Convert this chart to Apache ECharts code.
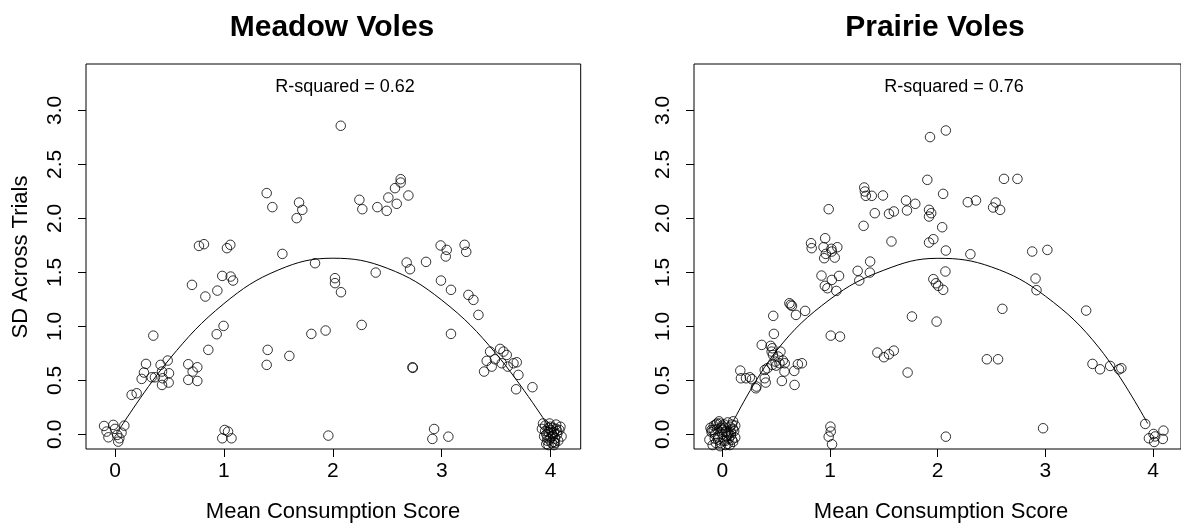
<!DOCTYPE html>
<html><head><meta charset="utf-8">
<script src="https://cdn.jsdelivr.net/npm/echarts@6/dist/echarts.min.js"></script>
<style>html,body{margin:0;padding:0;background:#fff}#c{width:1181px;height:525px}</style>
</head><body><div id="c"></div>
<script>
// Meadow voles: mean consumption score (x) and SD across trials (y)
const meadowX = [-0.10,-0.015,-0.077,-0.06,0.02,0.04,0.03,0.086,0.06,0.0,
0.153,0.199,0.352,0.245,0.266,0.285,0.337,0.367,0.419,0.432,0.438,0.496,0.493,0.432,0.484,0.673,0.713,0.756,0.673,0.756,0.707,0.771,0.817,0.83,0.857,0.94,0.934,0.997,0.985,1.028,1.059,1.062,1.084,0.985,1.007,1.038,1.07,1.393,1.445,1.402,1.393,1.537,1.69,1.72,1.668,1.837,1.601,2.073,2.02,2.02,2.075,1.803,1.934,1.959,2.244,2.271,2.394,2.265,2.409,2.495,2.51,2.587,2.571,2.623,2.623,2.694,2.678,2.709,2.856,2.731,2.735,2.99,3.046,3.037,3.21,3.225,2.993,3.085,3.085,3.245,3.291,3.337,2.93,2.914,3.061,
3.536,3.444,3.567,3.597,3.489,3.413,3.459,3.389,3.551,3.606,3.659,3.689,3.704,3.683,3.833,
3.92,3.95,3.98,4.0,4.02,4.05,4.08,3.94,3.97,4.01,4.04,4.06,3.99,4.03,3.96,4.09,4.1,3.93,4.0,4.07,3.98,4.03,
3.95,3.97,4.01,4.03,4.05,3.99,4.02,4.06,3.96,4.0,4.04,3.98];
const meadowY = [0.077,0.087,0.025,-0.028,-0.006,-0.037,-0.068,0.08,0.015,0.05,
0.365,0.38,0.914,0.513,0.572,0.652,0.528,0.528,0.643,0.581,0.519,0.565,0.479,0.457,0.683,0.649,0.581,0.621,0.504,0.494,1.384,1.745,1.761,1.276,0.782,1.331,0.927,1.004,1.467,1.724,1.755,1.461,1.424,-0.037,0.04,0.025,-0.037,2.234,2.104,0.782,0.643,1.671,2.147,2.079,2.002,1.585,0.726,2.858,1.446,1.40,1.316,0.93,0.961,-0.012,2.172,2.085,1.498,1.013,2.104,2.07,2.193,2.135,2.28,2.363,2.332,2.212,1.591,1.529,1.597,0.621,0.615,1.749,1.708,1.647,1.755,1.69,1.424,1.338,0.93,1.291,1.245,1.106,0.049,-0.043,-0.022,
0.791,0.766,0.766,0.735,0.695,0.68,0.627,0.581,0.658,0.627,0.658,0.667,0.55,0.417,0.436,
0.05,0.08,0.02,-0.03,0.06,0.09,0.04,-0.02,-0.06,-0.08,-0.04,0.0,0.1,0.02,0.0,0.07,-0.02,0.1,0.04,-0.06,-0.1,-0.1,
0.03,-0.03,0.01,-0.07,0.05,-0.05,-0.01,0.03,-0.09,0.07,-0.08,0.06];
// Prairie voles
const prairieX = [-0.12,-0.1,-0.08,-0.06,-0.05,-0.04,-0.02,0.0,0.01,0.02,0.03,0.04,0.05,0.06,0.07,0.08,0.09,0.1,0.11,0.12,-0.09,-0.03,0.0,-0.07,0.05,-0.11,0.1,-0.02,0.03,0.07,-0.05,0.12,
-0.08,-0.04,0.0,0.04,0.08,-0.06,-0.02,0.02,0.06,0.1,-0.1,-0.01,0.03,0.09,-0.07,0.05,
0.167,0.173,0.22,0.256,0.275,0.317,0.311,0.366,0.394,0.403,0.394,0.418,0.449,0.464,0.473,0.479,0.458,0.47,0.464,0.494,0.519,0.54,0.531,0.562,0.58,0.5,0.553,0.577,0.623,0.647,0.635,0.684,0.769,0.668,0.702,0.739,0.671,0.824,0.83,0.955,0.94,0.961,1.013,1.017,1.068,1.044,0.946,0.988,0.921,0.952,0.976,1.017,1.084,1.059,1.007,1.093,1.004,1.007,0.988,1.019,1.257,1.272,1.373,1.37,1.312,1.318,1.324,1.333,1.388,1.492,1.416,1.548,1.593,1.571,1.44,1.501,1.548,1.593,1.721,1.706,1.715,1.792,1.761,1.904,1.929,2.076,1.92,1.94,1.92,1.92,1.96,2.051,2.042,2.076,2.072,1.96,1.984,2.005,2.051,1.99,2.076,2.28,2.356,2.304,2.457,2.561,2.601,2.539,2.515,2.58,2.616,2.741,2.878,3.019,2.909,2.918,2.979,3.379,3.438,3.508,3.602,3.685,3.706,3.928,3.962,4.005,4.011,4.091,4.097,4.02];
const prairieY = [-0.05,0.02,0.08,-0.08,0.05,-0.02,0.1,0.0,-0.06,0.06,-0.1,0.03,0.11,-0.04,0.07,-0.01,0.09,-0.07,0.03,-0.03,-0.1,0.12,0.08,0.0,-0.09,0.06,0.12,-0.11,0.02,-0.1,0.1,0.08,
0.04,-0.05,0.04,-0.02,0.02,0.09,-0.08,0.09,0.0,0.05,0.04,0.06,-0.06,-0.05,-0.04,0.01,
0.59,0.519,0.519,0.528,0.51,0.442,0.426,0.828,0.596,0.479,0.519,0.612,0.819,0.797,1.097,0.93,0.766,0.735,0.643,0.673,0.72,0.766,0.658,0.683,0.658,0.636,0.494,0.581,1.214,1.189,1.2,1.106,1.143,0.587,0.649,0.658,0.457,1.77,1.724,1.816,1.733,1.671,1.718,1.693,1.733,1.637,1.631,2.085,1.47,1.375,1.353,1.43,1.467,1.328,0.914,0.905,0.071,0.025,-0.022,-0.093,1.514,1.424,1.6,1.498,1.931,2.286,2.249,2.209,2.209,2.212,2.048,2.042,2.064,1.786,0.757,0.714,0.741,0.775,0.572,2.166,2.073,2.135,1.091,2.357,2.753,2.814,2.079,2.048,2.017,1.776,1.807,2.227,1.918,1.702,1.508,1.437,1.399,1.375,1.338,1.044,-0.022,2.15,2.166,1.668,0.695,0.695,1.162,2.147,2.101,2.079,2.366,2.366,1.693,1.708,1.443,1.335,0.056,1.146,0.652,0.602,0.633,0.602,0.612,0.096,-0.037,0.003,-0.071,-0.043,0.034,-0.02];
// Fitted curves
const meadowFitX = [0.05,0.5,1.0,1.5,2.0,2.5,3.0,3.5,4.0];
const meadowFitY = [0.061,0.696,1.210,1.522,1.631,1.538,1.243,0.745,0.045];
const prairieFitX = [0.1,0.5,1.0,1.5,2.0,2.5,3.0,3.5,3.95];
const prairieFitY = [0.117,0.77,1.25,1.52,1.63,1.55,1.28,0.8,0.1];
const xTicks = [0,1,2,3,4];
const yTicks = [0,0.5,1,1.5,2,2.5,3];
const titles = ['Meadow Voles','Prairie Voles'];
const rsq = ['R-squared = 0.62','R-squared = 0.76'];
const xTitle = 'Mean Consumption Score';
const yTitle = 'SD Across Trials';

const FONT = '"Liberation Sans", Arial, Helvetica, sans-serif';
const zip = (a,b)=>a.map((v,i)=>[v,b[i]]);
const chart = echarts.init(document.getElementById('c'), null, {renderer:'canvas'});

function xAxis(idx,min,max){
  return {type:'value', gridIndex:idx, min:min, max:max, position:'bottom',
    axisLine:{show:false, onZero:false}, splitLine:{show:false},
    axisTick:{show:true, inside:false, length:8, customValues:xTicks, lineStyle:{color:'#000',width:1}},
    axisLabel:{show:true, customValues:xTicks, margin:12, color:'#000', fontSize:21, fontFamily:FONT,
      formatter:v=>String(v)}};
}
function yAxis(idx){
  return {type:'value', gridIndex:idx, min:-0.1363, max:3.430, position:'left',
    axisLine:{show:false, onZero:false}, splitLine:{show:false},
    axisTick:{show:true, inside:false, length:8, customValues:yTicks, lineStyle:{color:'#000',width:1}},
    axisLabel:{show:true, customValues:yTicks, rotate:90, margin:20, color:'#000', fontSize:21, fontFamily:FONT,
      formatter:v=>v.toFixed(1)}};
}
const scatterStyle = {symbol:'circle', symbolSize:9.5, itemStyle:{color:'rgba(0,0,0,0)', borderColor:'#000', borderWidth:1}};
const txt = (x,y,t,size,weight,rot)=>({type:'text', x:x, y:y, rotation:rot||0,
  style:{text:t, x:0, y:0, align:'center', verticalAlign:'middle', font:(weight||'normal')+' '+size+'px '+FONT, fill:'#000'}});

chart.setOption({
  animation:false,
  backgroundColor:'#fff',
  grid:[
    {left:86, top:64, width:494.7, height:385, show:true, borderColor:'#000', borderWidth:1, backgroundColor:'rgba(0,0,0,0)'},
    {left:694, top:64, width:494, height:385, show:true, borderColor:'#000', borderWidth:1, backgroundColor:'rgba(0,0,0,0)'}
  ],
  xAxis:[xAxis(0,-0.266,4.276), xAxis(1,-0.263,4.26)],
  yAxis:[yAxis(0), yAxis(1)],
  series:[
    Object.assign({type:'scatter', xAxisIndex:0, yAxisIndex:0, data:zip(meadowX,meadowY)}, scatterStyle),
    Object.assign({type:'scatter', xAxisIndex:1, yAxisIndex:1, data:zip(prairieX,prairieY)}, scatterStyle),
    {type:'line', xAxisIndex:0, yAxisIndex:0, data:zip(meadowFitX,meadowFitY), smooth:0.4, showSymbol:false, symbol:'none', lineStyle:{color:'#000',width:1}},
    {type:'line', xAxisIndex:1, yAxisIndex:1, data:zip(prairieFitX,prairieFitY), smooth:0.4, showSymbol:false, symbol:'none', lineStyle:{color:'#000',width:1}}
  ],
  graphic:[
    txt(332,28,titles[0],30,'bold'),
    txt(935,28,titles[1],30,'bold'),
    txt(345,87,rsq[0],18),
    txt(954,87,rsq[1],18),
    txt(333,512,xTitle,22),
    txt(941,512,xTitle,22),
    txt(21,257,yTitle,22,'normal',Math.PI/2)
  ]
});
</script></body></html>
